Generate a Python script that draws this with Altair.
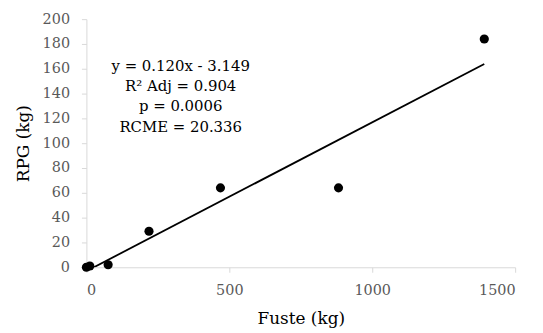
import altair as alt
import pandas as pd

fuste = [0, 12, 76, 219, 469, 882, 1392]
rpg = [0, 1, 2, 29, 64, 64, 184]

slope = 0.120
intercept = -3.149

ann_lines = ["y = 0.120x - 3.149", "R² Adj = 0.904", "p = 0.0006", "RCME = 20.336"]

pts = pd.DataFrame({"x": fuste, "y": rpg})
xs = [min(fuste), max(fuste)]
trend = pd.DataFrame({"x": xs, "y": [slope * v + intercept for v in xs]})
ann = pd.DataFrame({"t": ["\n".join(ann_lines)]})

FONT = "DejaVu Serif"

xenc = alt.X("x:Q", scale=alt.Scale(domain=[0, 1500], nice=False),
             axis=alt.Axis(values=[0, 500, 1000, 1500], format="d", title="Fuste (kg)", grid=False,
                           domainColor="#d9d9d9", tickColor="#d9d9d9", tickSize=5, labelOverlap=False,
                           labelPadding=11, labelColor="#595959", labelFont=FONT, labelFontSize=14.5,
                           titleFont=FONT, titleFontSize=17, titleFontWeight="normal",
                           titleColor="black", titlePadding=14))
yenc = alt.Y("y:Q", scale=alt.Scale(domain=[0, 200], nice=False),
             axis=alt.Axis(values=list(range(0, 201, 20)), format="d", title="RPG (kg)", grid=False,
                           domainColor="#d9d9d9", tickColor="#d9d9d9", tickSize=5, labelOverlap=False,
                           labelPadding=12, labelColor="#595959", labelFont=FONT, labelFontSize=14.5,
                           titleFont=FONT, titleFontSize=17, titleFontWeight="normal",
                           titleColor="black", titlePadding=10))

line = alt.Chart(trend).mark_line(color="black", strokeWidth=1.8, clip=True).encode(x=xenc, y=yenc)
points = alt.Chart(pts).mark_circle(color="black", opacity=1, size=85).encode(x=xenc, y=yenc)
text = alt.Chart(ann).mark_text(font=FONT, fontSize=15, color="black", lineBreak="\n",
                                lineHeight=20.5, align="center", baseline="middle").encode(
    x=alt.value(95), y=alt.value(47), text="t:N")

chart = alt.layer(line, points, text).properties(
    width=432, height=250,
    autosize=alt.AutoSizeParams(type="none"),
    padding={"left": 79, "top": 10, "right": 20, "bottom": 64},
    background="white",
).configure_view(stroke=None)

chart.save("out.html", embed_options={"renderer": "svg", "actions": False})
